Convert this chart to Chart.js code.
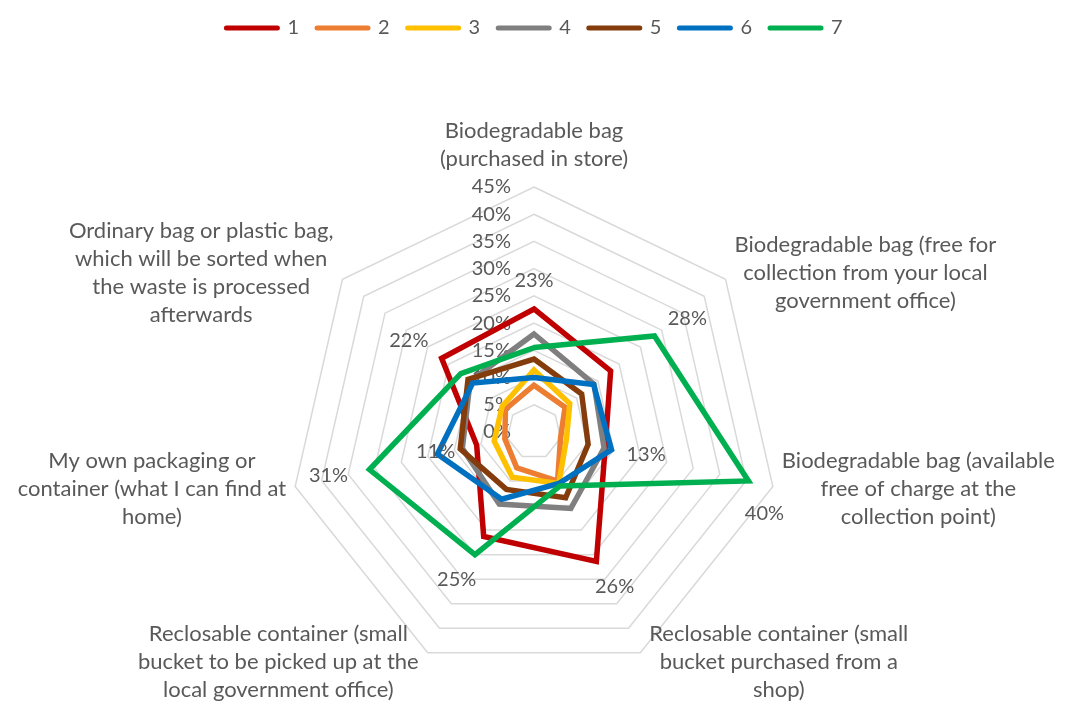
<!DOCTYPE html>
<html>
<head>
<meta charset="utf-8">
<script src="https://cdn.jsdelivr.net/npm/chart.js@4.4.0/dist/chart.umd.min.js"></script>
<style>
  html, body { margin: 0; padding: 0; background: #fff; }
</style>
</head>
<body>
<canvas id="grafico" width="1065" height="702"></canvas>
<script>
// Categorías (ejes del radar), cada una partida en líneas
const categorias = [
    ['Biodegradable bag', '(purchased in store)'],
    ['Biodegradable bag (free for', 'collection from your local', 'government office)'],
    ['Biodegradable bag (available', 'free of charge at the', 'collection point)'],
    ['Reclosable container (small', 'bucket purchased from a', 'shop)'],
    ['Reclosable container (small', 'bucket to be picked up at the', 'local government office)'],
    ['My own packaging or', 'container (what I can find at', 'home)'],
    ['Ordinary bag or plastic bag,', 'which will be sorted when', 'the waste is processed', 'afterwards']
];

// Valores en % por serie
const serie1 = [22.6, 18, 13.4, 26.4, 21.3, 10.8, 21.7];
const serie2 = [8.6, 7.3, 5.0, 10.0, 7.3, 5.5, 6.7];
const serie3 = [11.4, 8.4, 6.1, 10.5, 9.2, 7.5, 7.5];
const serie4 = [18, 14.1, 13.2, 15.6, 14.7, 13.5, 15];
const serie5 = [13.4, 11.2, 10.2, 13.4, 11.7, 13.9, 15.5];
const serie6 = [10, 14, 14.6, 10.5, 13.7, 18.2, 14.4];
const serie7 = [15.5, 28.3, 40.4, 11, 25, 31, 17.2];

const nombresSeries = ['1', '2', '3', '4', '5', '6', '7'];
const valoresSeries = [serie1, serie2, serie3, serie4, serie5, serie6, serie7];
const colores = ['#C00000', '#ED7D31', '#FFC000', '#7F7F7F', '#843C0C', '#0070C0', '#00B050'];

// Marcas del eje radial
const marcasEje = [0, 5, 10, 15, 20, 25, 30, 35, 40, 45];

// Etiquetas de datos visibles: [serie, categoría, posición]
const etiquetasDatos = [[0, 0], [6, 1], [0, 2], [6, 2, 'abajo'], [0, 3], [6, 4], [0, 5], [6, 5], [0, 6]];

const gris = '#595959';
const fuente = 'Lato, "Open Sans", sans-serif';

// Más espacio bajo la leyenda
const espacioLeyenda = {
    id: 'espacioLeyenda',
    beforeInit(chart) {
        const fitOriginal = chart.legend.fit;
        chart.legend.fit = function () {
            fitOriginal.bind(chart.legend)();
            this.height += 139;
        };
    }
};

// Rótulos del eje (0%..45%) y de las categorías, debajo de las series
const rotulosEje = {
    id: 'rotulosEje',
    beforeDatasetsDraw(chart) {
        const ctx = chart.ctx;
        const r = chart.scales.r;
        ctx.save();
        ctx.fillStyle = gris;

        ctx.font = '20px ' + fuente;
        ctx.textAlign = 'right';
        ctx.textBaseline = 'middle';
        marcasEje.forEach(v => {
            const d = r.getDistanceFromCenterForValue(v);
            ctx.fillText(v + '%', r.xCenter - 23, r.yCenter - d);
        });

        ctx.font = '22px ' + fuente;
        ctx.textAlign = 'center';
        const altoLinea = 28;
        categorias.forEach((lineas, i) => {
            const ang = r.getIndexAngle(i);
            const p = r.getPointPosition(i, r.drawingArea);
            const ancho = Math.max(...lineas.map(l => ctx.measureText(l).width));
            const alto = lineas.length * altoLinea;
            let cx, cy;
            if (i === 0) {
                cx = p.x;
                cy = p.y - 14 - alto / 2;
            } else {
                cx = p.x + Math.sign(Math.sin(ang)) * (9 + ancho / 2);
                cy = p.y - 10 * Math.cos(ang);
            }
            lineas.forEach((l, k) => {
                ctx.fillText(l, cx, cy - alto / 2 + altoLinea / 2 + k * altoLinea);
            });
        });
        ctx.restore();
    }
};

// Etiquetas de valores sobre los puntos
const rotulosDatos = {
    id: 'rotulosDatos',
    afterDatasetsDraw(chart) {
        const ctx = chart.ctx;
        const r = chart.scales.r;
        ctx.save();
        ctx.fillStyle = gris;
        ctx.font = '20px ' + fuente;
        ctx.textAlign = 'center';
        ctx.textBaseline = 'middle';
        etiquetasDatos.forEach(([s, i, pos]) => {
            const el = chart.getDatasetMeta(s).data[i];
            const ang = r.getIndexAngle(i);
            let x = el.x + Math.sin(ang) * 42;
            let y = el.y - Math.cos(ang) * 28;
            if (pos === 'abajo') {
                x = el.x + 16;
                y = el.y + 33;
            }
            ctx.fillText(Math.round(valoresSeries[s][i]) + '%', x, y);
        });
        ctx.restore();
    }
};

const ctx = document.getElementById('grafico').getContext('2d');
new Chart(ctx, {
    type: 'radar',
    data: {
        labels: categorias,
        datasets: valoresSeries.map((datos, i) => ({
            label: nombresSeries[i],
            data: datos,
            borderColor: colores[i],
            backgroundColor: colores[i],
            order: valoresSeries.length - i
        }))
    },
    options: {
        responsive: false,
        animation: false,
        layout: { padding: { top: 0, bottom: 25, left: 4, right: 0 } },
        elements: {
            line: { borderWidth: 5.5, tension: 0, fill: false, borderJoinStyle: 'miter', borderCapStyle: 'round' },
            point: { radius: 0, hoverRadius: 0, hitRadius: 0 }
        },
        scales: {
            r: {
                min: 0,
                max: 45,
                ticks: { stepSize: 5, display: false },
                grid: { color: '#D9D9D9', lineWidth: 1.5 },
                angleLines: { display: false },
                pointLabels: { display: false }
            }
        },
        plugins: {
            legend: {
                position: 'top',
                labels: {
                    usePointStyle: true,
                    pointStyle: 'line',
                    pointStyleWidth: 51,
                    padding: 18,
                    color: gris,
                    font: { family: fuente, size: 20 },
                    sort: (a, b) => a.datasetIndex - b.datasetIndex,
                    generateLabels(chart) {
                        const items = Chart.defaults.plugins.legend.labels.generateLabels(chart);
                        return items.map(it => Object.assign(it, {
                            lineWidth: 5,
                            lineCap: 'round',
                            strokeStyle: colores[it.datasetIndex]
                        }));
                    }
                }
            },
            tooltip: { enabled: false }
        }
    },
    plugins: [espacioLeyenda, rotulosEje, rotulosDatos]
});
</script>
</body>
</html>
